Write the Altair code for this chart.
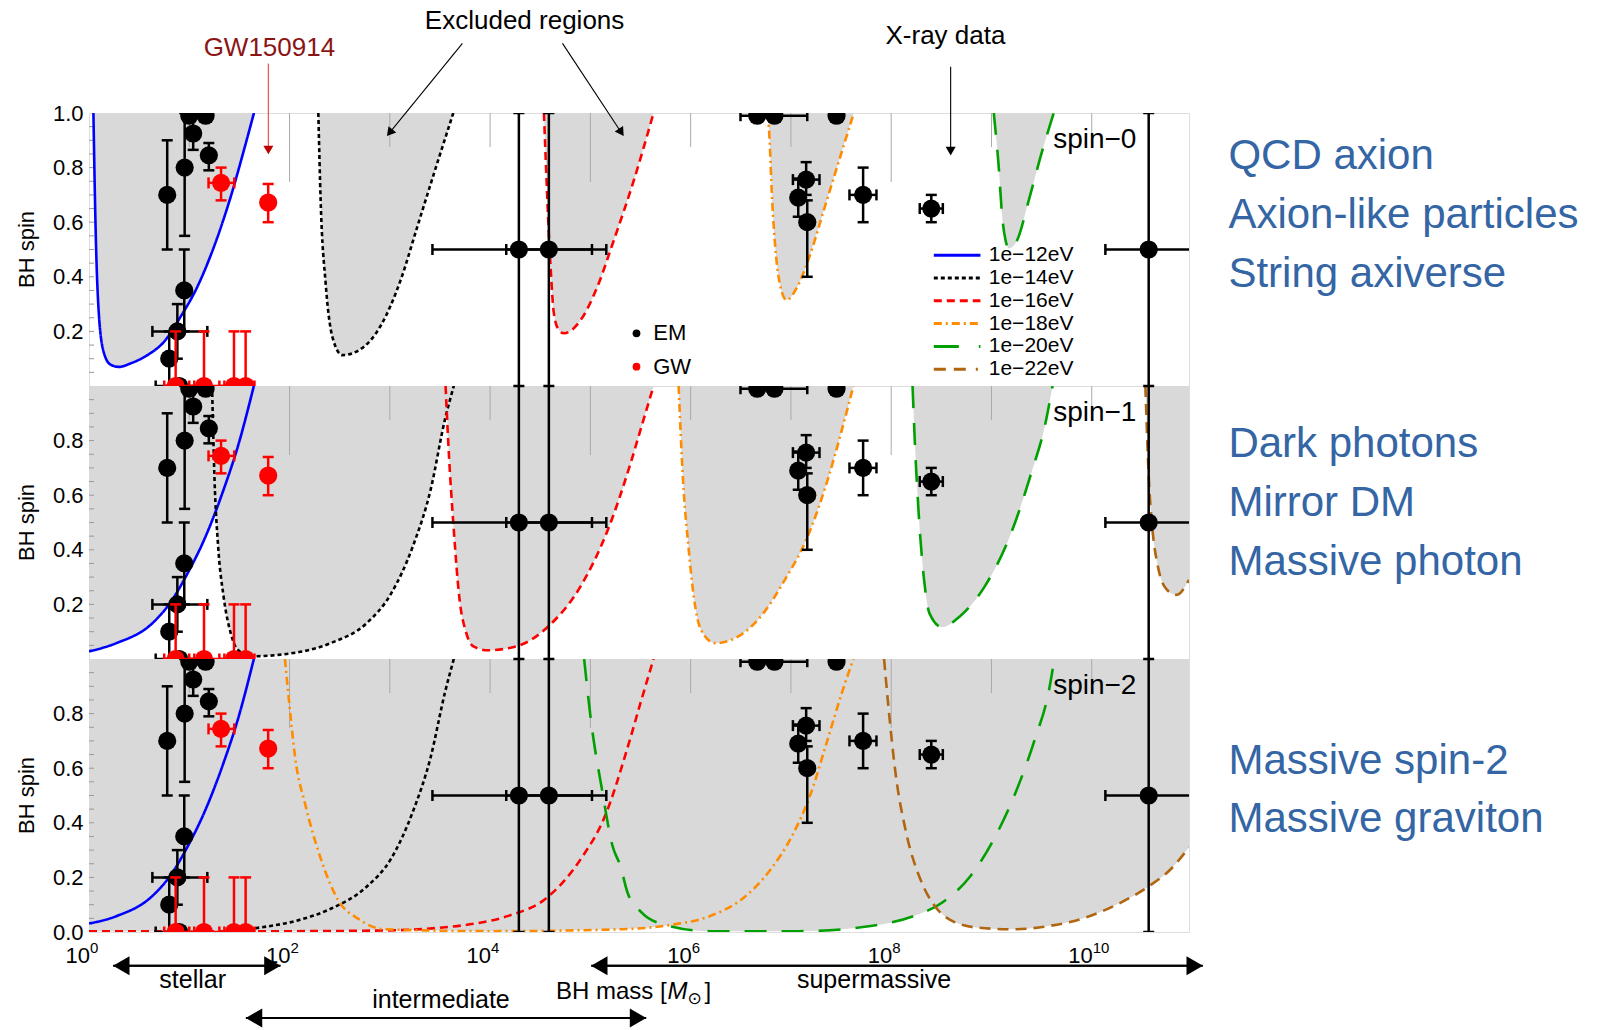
import math
import altair as alt
import pandas as pd

FONT = "Liberation Sans"
LOG_XMAX = 10.97
W, H = 1100, 273
GREY = "#d9d9d9"
BLUE_TEXT = "#3465a4"

# ---------------- legend / curve styling ----------------
curve_labels = ["1e−12eV", "1e−14eV", "1e−16eV", "1e−18eV", "1e−20eV", "1e−22eV"]
curve_colors = ["#0000ff", "#000000", "#ff0000", "#ff8c00", "#00a000", "#b0650f"]
curve_dashes = [[1, 0], [4, 3], [8, 5], [8, 4, 2, 4], [22, 15], [11, 7]]
legend_dashes = [[1, 0], [4, 3], [8, 5], [8, 4, 2, 4], [25, 20, 2, 20], [12, 8, 12, 10, 2, 10]]

# ---------------- spin-0 curves (log10 M, spin) ----------------
s0_12_log10m = [0.044, 0.067, 0.10, 0.15, 0.216, 0.30, 0.416, 0.582, 0.748, 0.914, 1.08, 1.246, 1.413, 1.545, 1.645]
s0_12_spin = [1.0, 0.56, 0.254, 0.12, 0.078, 0.07, 0.083, 0.113, 0.162, 0.254, 0.363, 0.51, 0.693, 0.864, 1.0]
s0_14_log10m = [2.287, 2.31, 2.36, 2.427, 2.526, 2.742, 2.908, 3.108, 3.274, 3.44, 3.633]
s0_14_spin = [1.0, 0.68, 0.376, 0.18, 0.113, 0.144, 0.22, 0.388, 0.583, 0.778, 1.0]
s0_16_log10m = [4.537, 4.603, 4.636, 4.686, 4.736, 4.902, 5.069, 5.234, 5.434, 5.63]
s0_16_spin = [1.0, 0.437, 0.266, 0.205, 0.193, 0.241, 0.363, 0.534, 0.754, 1.0]
s0_18_log10m = [6.764, 6.78, 6.813, 6.846, 6.896, 6.956, 7.063, 7.195, 7.328, 7.461, 7.627]
s0_18_spin = [1.0, 0.949, 0.68, 0.5, 0.363, 0.315, 0.363, 0.485, 0.644, 0.803, 1.0]
s0_20_log10m = [9.023, 9.073, 9.107, 9.14, 9.173, 9.21, 9.256, 9.372, 9.489, 9.621]
s0_20_spin = [1.0, 0.80, 0.62, 0.535, 0.504, 0.51, 0.534, 0.68, 0.839, 1.0]

# ---------------- spin-1 curves ----------------
s1_12_log10m = [0.0, 0.273, 0.629, 0.808, 0.985, 1.163, 1.342, 1.484, 1.644]
s1_12_spin = [0.028, 0.058, 0.13, 0.205, 0.315, 0.449, 0.62, 0.778, 1.0]
s1_14_log10m = [1.227, 1.252, 1.288, 1.342, 1.413, 1.484, 1.626, 1.911, 2.41, 2.766, 3.015, 3.229, 3.407, 3.549, 3.638]
s1_14_spin = [1.0, 0.656, 0.412, 0.229, 0.095, 0.034, 0.01, 0.016, 0.058, 0.13, 0.241, 0.412, 0.62, 0.876, 1.0]
s1_16_log10m = [3.556, 3.585, 3.638, 3.692, 3.763, 3.834, 3.976, 4.261, 4.582, 4.902, 5.187, 5.401, 5.5, 5.63]
s1_16_spin = [1.0, 0.778, 0.473, 0.229, 0.095, 0.046, 0.032, 0.046, 0.12, 0.266, 0.485, 0.717, 0.839, 1.0]
s1_18_log10m = [5.88, 5.924, 5.978, 6.031, 6.103, 6.244, 6.476, 6.726, 6.939, 7.153, 7.366, 7.508, 7.623]
s1_18_spin = [1.0, 0.656, 0.412, 0.229, 0.107, 0.058, 0.083, 0.168, 0.29, 0.437, 0.656, 0.839, 1.0]
s1_20_log10m = [8.213, 8.238, 8.274, 8.328, 8.381, 8.506, 8.684, 8.933, 9.183, 9.396, 9.538, 9.609]
s1_20_spin = [1.0, 0.778, 0.534, 0.29, 0.168, 0.117, 0.156, 0.266, 0.449, 0.68, 0.863, 1.0]
s1_22_log10m = [10.535, 10.57, 10.606, 10.66, 10.749, 10.845, 10.97]
s1_22_spin = [1.0, 0.656, 0.473, 0.339, 0.254, 0.235, 0.29]

# ---------------- spin-2 curves ----------------
s2_12_log10m = [0.0, 0.273, 0.629, 0.808, 0.985, 1.163, 1.342, 1.484, 1.644]
s2_12_spin = [0.031, 0.058, 0.131, 0.205, 0.314, 0.449, 0.62, 0.778, 1.0]
s2_14_log10m = [1.45, 1.698, 2.054, 2.41, 2.766, 3.015, 3.229, 3.407, 3.549, 3.638]
s2_14_spin = [0.005, 0.016, 0.04, 0.085, 0.165, 0.27, 0.44, 0.64, 0.876, 1.0]
s2_16_log10m = [0.0, 1.0, 2.0, 3.0, 3.478, 3.834, 4.19, 4.547, 4.902, 5.152, 5.365, 5.5, 5.63]
s2_16_spin = [0.003, 0.003, 0.003, 0.006, 0.015, 0.03, 0.06, 0.12, 0.266, 0.43, 0.668, 0.839, 1.0]
s2_18_log10m = [1.954, 2.0, 2.054, 2.161, 2.303, 2.481, 2.695, 2.944, 4.0, 5.30, 5.835, 6.191, 6.547, 6.797, 7.01, 7.188, 7.366, 7.508, 7.623]
s2_18_spin = [1.0, 0.827, 0.644, 0.461, 0.278, 0.119, 0.046, 0.01, 0.003, 0.01, 0.028, 0.058, 0.131, 0.229, 0.351, 0.497, 0.705, 0.876, 1.0]
s2_20_log10m = [4.938, 5.009, 5.116, 5.222, 5.30, 5.371, 5.515, 5.729, 6.191, 7.082, 7.794, 8.222, 8.506, 8.791, 9.04, 9.253, 9.432, 9.575, 9.627]
s2_20_spin = [1.0, 0.766, 0.522, 0.314, 0.241, 0.144, 0.07, 0.028, 0.003, 0.003, 0.022, 0.058, 0.107, 0.205, 0.351, 0.522, 0.705, 0.888, 1.0]
s2_22_log10m = [7.929, 7.972, 8.043, 8.15, 8.292, 8.435, 8.612, 8.861, 9.218, 9.575, 9.93, 10.286, 10.571, 10.785, 10.97]
s2_22_spin = [1.0, 0.827, 0.583, 0.363, 0.192, 0.095, 0.04, 0.016, 0.01, 0.022, 0.052, 0.107, 0.168, 0.229, 0.31]

# ---------------- EM (X-ray) measurements ----------------
em_log10m = [0.78, 0.954, 0.95, 0.881, 0.80, 0.90, 1.00, 1.163, 1.039, 1.195, 4.287, 4.586,
             6.664, 6.836, 7.455, 7.152, 7.073, 7.163, 7.72, 8.40, 10.568]
em_spin = [0.70, 0.80, 0.35, 0.20, 0.10, 0.0, 0.99, 0.99, 0.925, 0.845, 0.5, 0.5,
           0.99, 0.99, 0.99, 0.756, 0.69, 0.60, 0.70, 0.65, 0.5]
em_spin_lo = [0.50, 0.55, 0.20, 0.10, 0.0, None, None, None, 0.865, 0.79, 0.0, 0.0,
              None, None, None, 0.70, 0.62, 0.40, 0.60, 0.60, 0.0]
em_spin_hi = [0.90, 1.0, 0.50, 0.30, 0.20, None, None, None, 1.0, 0.89, 1.0, 1.0,
              None, None, None, 0.82, 0.76, 0.68, 0.80, 0.70, 1.0]
em_log10m_lo = [None, None, None, 0.632, None, 0.665, None, None, None, None, 3.425, 4.161,
                None, 6.497, None, 7.02, None, None, 7.584, 8.285, 10.136]
em_log10m_hi = [None, None, None, 1.18, None, 1.10, None, None, None, None, 5.016, 5.159,
                None, 7.163, None, 7.285, None, None, 7.853, 8.515, 11.2]

# ---------------- GW measurements ----------------
gw_log10m = [1.317, 1.787, 0.864, 1.147, 1.446, 1.562]
gw_spin = [0.744, 0.672, 0.0, 0.0, 0.0, 0.0]
gw_spin_lo = [0.68, 0.60, 0.0, 0.0, 0.0, 0.0]
gw_spin_hi = [0.80, 0.74, 0.20, 0.20, 0.20, 0.20]
gw_log10m_lo = [1.192, None, 0.75, 1.0, 1.3, 1.45]
gw_log10m_hi = [1.449, None, 1.05, 1.35, 1.6, 1.65]

# ---------------- axes / labels ----------------
y_ticks_spin0 = [0.2, 0.4, 0.6, 0.8, 1.0]
y_ticks_spin1 = [0.2, 0.4, 0.6, 0.8]
y_ticks_spin2 = [0.0, 0.2, 0.4, 0.6, 0.8]
x_label_log10m = [0, 2, 4, 6, 8, 10]
x_label_exponents = ["0", "2", "4", "6", "8", "10"]
top_tick_short_log10m = [1, 3, 4, 6, 7, 9, 10]
top_tick_long_log10m = [2, 5, 8]
y_minor_ticks = [round(0.05 * i, 2) for i in range(1, 20)]

panel_names = ["spin−0", "spin−1", "spin−2"]
side_texts_spin0 = ["QCD axion", "Axion-like particles", "String axiverse"]
side_texts_spin1 = ["Dark photons", "Mirror DM", "Massive photon"]
side_texts_spin2 = ["Massive spin-2", "Massive graviton"]
side_spin_spin0 = [0.844, 0.6275, 0.4105]
side_spin_spin1 = [0.786, 0.573, 0.356]
side_spin_spin2 = [0.6275, 0.414]
SIDE_LOG10M = 11.363
PANEL_NAME_LOG10M = 9.615
PANEL_NAME_SPIN = 0.9

# annotation positions (in panel data coordinates)
note_texts = ["Excluded regions", "X-ray data"]
note_log10m = [4.344, 8.541]
note_spin = [1.338, 1.281]
black_arrow_start = [(3.724, 1.255), (4.722, 1.255), (8.593, 1.169)]
black_arrow_tip = [(2.970, 0.915), (5.333, 0.915), (8.593, 0.844)]
gw_note = "GW150914"
gw_note_pos = (1.799, 1.237)
gw_arrow_start = [(1.789, 1.181)]
gw_arrow_tip = [(1.789, 0.848)]

legend_rule_log10m = (8.425, 8.89)
legend_text_log10m = 8.973
legend_first_spin = 0.479
legend_row_step = 0.0835

kind_labels = ["EM", "GW"]
kind_colors = ["black", "#ff0000"]
kind_dot_log10m = 5.46
kind_text_log10m = 5.627
kind_spin = [0.193, 0.0706]

range_texts = ["stellar", "intermediate", "supermassive"]
range_text_pos = [(1.034, -0.177), (3.51, -0.25), (7.829, -0.177)]
range_arrow_from = [(0.24, -0.124), (1.564, -0.315), (5.007, -0.124)]
range_arrow_to = [(1.911, -0.124), (5.557, -0.315), (11.109, -0.124)]
xtitle_pos = (5.76, -0.221)

# ---------------- helpers ----------------
xscale = alt.Scale(type="log", domain=[1, 10 ** LOG_XMAX], nice=False)
yscale = alt.Scale(domain=[0, 1], nice=False, zero=False)
color_scale = alt.Scale(domain=curve_labels, range=curve_colors)
dash_scale = alt.Scale(domain=curve_labels, range=curve_dashes)


def to_px(lm, a):
    return lm / LOG_XMAX * W, (1 - a) * H


def from_px(x, y):
    return x / W * LOG_XMAX, 1 - y / H


def curve_frame(curves):
    rows = []
    for lab, xs, ys in curves:
        for lx, s in zip(xs, ys):
            rows.append({"label": lab, "m": 10 ** lx, "a": s, "top": 1.0})
    return pd.DataFrame(rows)


def arrow_frames(starts, tips, back):
    lines, heads = [], []
    for (sl, sa), (tl, ta) in zip(starts, tips):
        sx, sy = to_px(sl, sa)
        tx, ty = to_px(tl, ta)
        dx, dy = tx - sx, ty - sy
        n = math.hypot(dx, dy)
        ux, uy = dx / n, dy / n
        lm, a = from_px(tx - back * ux, ty - back * uy)
        ang = math.degrees(math.atan2(ux, -uy)) % 360
        heads.append({"m": 10 ** lm, "a": a, "ang": ang})
        elm, ea = from_px(tx - 0.8 * back * ux, ty - 0.8 * back * uy)
        lines.append({"m": 10 ** sl, "a": sa, "m2": 10 ** elm, "a2": ea})
    return pd.DataFrame(lines), pd.DataFrame(heads)


def make_axis(vals):
    return alt.Axis(values=vals, format=".1f", labelFontSize=22, labelFont=FONT,
                    labelColor="black", labelPadding=6, ticks=False, domain=False,
                    grid=False, title=None, labelFlush=False, labelOverlap=False)


def point_frames(lm, s, slo, shi, mlo, mhi):
    pts = pd.DataFrame({"m": [10 ** v for v in lm], "a": s})
    v = [{"m": 10 ** lm[i], "lo": slo[i], "hi": shi[i]} for i in range(len(lm)) if slo[i] is not None]
    h = [{"a": s[i], "mlo": 10 ** mlo[i], "mhi": 10 ** mhi[i]} for i in range(len(lm)) if mlo[i] is not None]
    return pts, pd.DataFrame(v), pd.DataFrame(h)


em_pts, em_v, em_h = point_frames(em_log10m, em_spin, em_spin_lo, em_spin_hi, em_log10m_lo, em_log10m_hi)
gw_pts, gw_v, gw_h = point_frames(gw_log10m, gw_spin, gw_spin_lo, gw_spin_hi, gw_log10m_lo, gw_log10m_hi)


def build_panel(curves, yvals, name, side_texts, side_spins, extra=None):
    yaxis = make_axis(yvals)

    def X(f="m"):
        return alt.X(f"{f}:Q", scale=xscale, axis=None)

    def Y(f="a"):
        return alt.Y(f"{f}:Q", scale=yscale, axis=yaxis, stack=None)

    cdf = curve_frame(curves)
    layers = []
    for lab in cdf["label"].unique():
        sub = cdf[cdf["label"] == lab]
        layers.append(alt.Chart(sub).mark_area(color=GREY, fill=GREY, opacity=1, interpolate="monotone",
                                               clip=True).encode(x=X(), y=Y(), y2="top:Q"))
    layers.append(alt.Chart(pd.DataFrame({"m": [10 ** v for v in top_tick_short_log10m]})).mark_rule(
        color="#aaaaaa", strokeWidth=1).encode(x=X(), y=alt.value(0), y2=alt.value(34)))
    layers.append(alt.Chart(pd.DataFrame({"m": [10 ** v for v in top_tick_long_log10m]})).mark_rule(
        color="#aaaaaa", strokeWidth=1).encode(x=X(), y=alt.value(0), y2=alt.value(69)))
    layers.append(alt.Chart(pd.DataFrame({"a": y_minor_ticks})).mark_rule(
        color="#999999", strokeWidth=1).encode(y=Y(), x=alt.value(0), x2=alt.value(5)))
    layers.append(alt.Chart(cdf).mark_line(strokeWidth=2.6, interpolate="monotone", clip=True).encode(
        x=X(), y=Y(),
        color=alt.Color("label:N", scale=color_scale, legend=None),
        strokeDash=alt.StrokeDash("label:N", scale=dash_scale, legend=None)))
    for pts, v, h, col in [(em_pts, em_v, em_h, kind_colors[0]), (gw_pts, gw_v, gw_h, kind_colors[1])]:
        layers.append(alt.Chart(v).mark_rule(color=col, strokeWidth=2.5, clip=True).encode(
            x=X(), y=Y("lo"), y2="hi:Q"))
        for f in ["lo", "hi"]:
            layers.append(alt.Chart(v).mark_tick(color=col, orient="horizontal", size=11, thickness=2.5,
                                                 opacity=1, clip=True).encode(x=X(), y=Y(f)))
        layers.append(alt.Chart(h).mark_rule(color=col, strokeWidth=2.5, clip=True).encode(
            x=X("mlo"), x2="mhi:Q", y=Y()))
        for f in ["mlo", "mhi"]:
            layers.append(alt.Chart(h).mark_tick(color=col, orient="vertical", size=11, thickness=2.5,
                                                 opacity=1, clip=True).encode(x=X(f), y=Y()))
        layers.append(alt.Chart(pts).mark_circle(color=col, size=330, opacity=1, clip=True).encode(
            x=X(), y=Y()))
    layers.append(alt.Chart(pd.DataFrame({"t": [name], "m": [10 ** PANEL_NAME_LOG10M], "a": [PANEL_NAME_SPIN]}))
                  .mark_text(align="left", baseline="middle", fontSize=28, font=FONT, color="black")
                  .encode(x=X(), y=Y(), text="t:N"))
    layers.append(alt.Chart(pd.DataFrame({"t": side_texts, "m": [10 ** SIDE_LOG10M] * len(side_texts),
                                          "a": side_spins}))
                  .mark_text(align="left", baseline="middle", fontSize=42, font=FONT, color=BLUE_TEXT)
                  .encode(x=X(), y=Y(), text="t:N"))
    layers.append(alt.Chart(pd.DataFrame({"t": ["BH spin"]}))
                  .mark_text(angle=270, align="center", baseline="middle", fontSize=22, font=FONT, color="black")
                  .encode(x=alt.value(-62), y=alt.value(H / 2), text="t:N"))
    if extra is not None:
        layers.extend(extra(X, Y))
    return alt.layer(*layers).properties(width=W, height=H)


def spin0_extras(X, Y):
    out = []
    # invisible anchor fixing the page origin
    out.append(alt.Chart(pd.DataFrame({"z": [0]})).mark_rule(color="white", strokeWidth=1).encode(
        x=alt.value(-88), x2=alt.value(-86), y=alt.value(-112), y2=alt.value(-112)))
    # line legend (one layer per entry)
    for i, lab in enumerate(curve_labels):
        row = pd.DataFrame({"t": [lab], "m": [10 ** legend_rule_log10m[0]], "m2": [10 ** legend_rule_log10m[1]],
                            "mt": [10 ** legend_text_log10m], "a": [legend_first_spin - legend_row_step * i]})
        out.append(alt.Chart(row).mark_rule(strokeWidth=3, color=curve_colors[i], strokeDash=legend_dashes[i])
                   .encode(x=X(), x2="m2:Q", y=Y()))
        out.append(alt.Chart(row).mark_text(align="left", baseline="middle", fontSize=21, font=FONT, color="black")
                   .encode(x=X("mt"), y=Y(), text="t:N"))
    # EM / GW legend
    for i, lab in enumerate(kind_labels):
        kd = pd.DataFrame({"t": [lab], "m": [10 ** kind_dot_log10m], "mt": [10 ** kind_text_log10m],
                           "a": [kind_spin[i]]})
        out.append(alt.Chart(kd).mark_circle(size=60, opacity=1, color=kind_colors[i]).encode(x=X(), y=Y()))
        out.append(alt.Chart(kd).mark_text(align="left", baseline="middle", fontSize=22, font=FONT, color="black")
                   .encode(x=X("mt"), y=Y(), text="t:N"))
    # annotations
    nd = pd.DataFrame({"t": note_texts, "m": [10 ** v for v in note_log10m], "a": note_spin})
    out.append(alt.Chart(nd).mark_text(align="center", baseline="middle", fontSize=26, font=FONT, color="black")
               .encode(x=X(), y=Y(), text="t:N"))
    bl, bh = arrow_frames(black_arrow_start, black_arrow_tip, 4.5)
    out.append(alt.Chart(bl).mark_rule(color="black", strokeWidth=1.1).encode(x=X(), x2="m2:Q", y=Y(), y2="a2:Q"))
    out.append(alt.Chart(bh).mark_point(shape="triangle-up", filled=True, size=100, color="black", opacity=1)
               .encode(x=X(), y=Y(), angle=alt.Angle("ang:Q", scale=None)))
    gd = pd.DataFrame({"t": [gw_note], "m": [10 ** gw_note_pos[0]], "a": [gw_note_pos[1]]})
    out.append(alt.Chart(gd).mark_text(align="center", baseline="middle", fontSize=26, font=FONT, color="#8b1414")
               .encode(x=X(), y=Y(), text="t:N"))
    rl, rh = arrow_frames(gw_arrow_start, gw_arrow_tip, 4.5)
    out.append(alt.Chart(rl).mark_rule(color="#e06060", strokeWidth=1.3).encode(x=X(), x2="m2:Q", y=Y(), y2="a2:Q"))
    out.append(alt.Chart(rh).mark_point(shape="triangle-up", filled=True, size=100, color="#c00000", opacity=1)
               .encode(x=X(), y=Y(), angle=alt.Angle("ang:Q", scale=None)))
    return out


def spin2_extras(X, Y):
    out = []
    xl = pd.DataFrame({"m": [10 ** v for v in x_label_log10m], "base": ["10"] * len(x_label_log10m),
                       "sup": x_label_exponents})
    out.append(alt.Chart(xl).mark_text(align="right", baseline="middle", fontSize=22, font=FONT, color="black", dx=1)
               .encode(x=X(), y=alt.value(H + 24), text="base:N"))
    out.append(alt.Chart(xl).mark_text(align="left", baseline="middle", fontSize=15, font=FONT, color="black",
                                       dx=1, dy=-8)
               .encode(x=X(), y=alt.value(H + 24), text="sup:N"))
    starts = range_arrow_from + range_arrow_to
    tips = range_arrow_to + range_arrow_from
    al, ah = arrow_frames(starts, tips, 8.2)
    out.append(alt.Chart(al).mark_rule(color="black", strokeWidth=2).encode(x=X(), x2="m2:Q", y=Y(), y2="a2:Q"))
    out.append(alt.Chart(ah).mark_point(shape="triangle-up", filled=True, size=360, color="black", opacity=1)
               .encode(x=X(), y=Y(), angle=alt.Angle("ang:Q", scale=None)))
    rt = pd.DataFrame({"t": range_texts, "m": [10 ** p[0] for p in range_text_pos], "a": [p[1] for p in range_text_pos]})
    out.append(alt.Chart(rt).mark_text(align="center", baseline="middle", fontSize=25, font=FONT, color="black")
               .encode(x=X(), y=Y(), text="t:N"))
    tm = 10 ** xtitle_pos[0]
    ta = xtitle_pos[1]
    out.append(alt.Chart(pd.DataFrame({"t": ["BH mass ["], "m": [tm], "a": [ta]}))
               .mark_text(align="right", baseline="middle", fontSize=24, font=FONT, color="black")
               .encode(x=X(), y=Y(), text="t:N"))
    out.append(alt.Chart(pd.DataFrame({"t": ["M"], "m": [tm], "a": [ta]}))
               .mark_text(align="left", baseline="middle", fontSize=24, font=FONT, fontStyle="italic",
                          color="black", dx=1)
               .encode(x=X(), y=Y(), text="t:N"))
    out.append(alt.Chart(pd.DataFrame({"t": ["⊙"], "m": [tm], "a": [ta]}))
               .mark_text(align="left", baseline="middle", fontSize=17, font="DejaVu Sans",
                          color="black", dx=21, dy=7)
               .encode(x=X(), y=Y(), text="t:N"))
    out.append(alt.Chart(pd.DataFrame({"t": ["]"], "m": [tm], "a": [ta]}))
               .mark_text(align="left", baseline="middle", fontSize=24, font=FONT, color="black", dx=38)
               .encode(x=X(), y=Y(), text="t:N"))
    return out


curves0 = [(curve_labels[0], s0_12_log10m, s0_12_spin), (curve_labels[1], s0_14_log10m, s0_14_spin),
           (curve_labels[2], s0_16_log10m, s0_16_spin), (curve_labels[3], s0_18_log10m, s0_18_spin),
           (curve_labels[4], s0_20_log10m, s0_20_spin)]
curves1 = [(curve_labels[0], s1_12_log10m, s1_12_spin), (curve_labels[1], s1_14_log10m, s1_14_spin),
           (curve_labels[2], s1_16_log10m, s1_16_spin), (curve_labels[3], s1_18_log10m, s1_18_spin),
           (curve_labels[4], s1_20_log10m, s1_20_spin), (curve_labels[5], s1_22_log10m, s1_22_spin)]
curves2 = [(curve_labels[0], s2_12_log10m, s2_12_spin), (curve_labels[1], s2_14_log10m, s2_14_spin),
           (curve_labels[2], s2_16_log10m, s2_16_spin), (curve_labels[3], s2_18_log10m, s2_18_spin),
           (curve_labels[4], s2_20_log10m, s2_20_spin), (curve_labels[5], s2_22_log10m, s2_22_spin)]

p0 = build_panel(curves0, y_ticks_spin0, panel_names[0], side_texts_spin0, side_spin_spin0, spin0_extras)
p1 = build_panel(curves1, y_ticks_spin1, panel_names[1], side_texts_spin1, side_spin_spin1)
p2 = build_panel(curves2, y_ticks_spin2, panel_names[2], side_texts_spin2, side_spin_spin2, spin2_extras)

chart = alt.vconcat(p0, p1, p2, spacing=0, bounds="flush").properties(padding=0).configure_view(
    stroke="#8c8c8c", strokeWidth=1.5).configure(font=FONT)

chart.save("out.html", embed_options={"renderer": "svg", "actions": False})
